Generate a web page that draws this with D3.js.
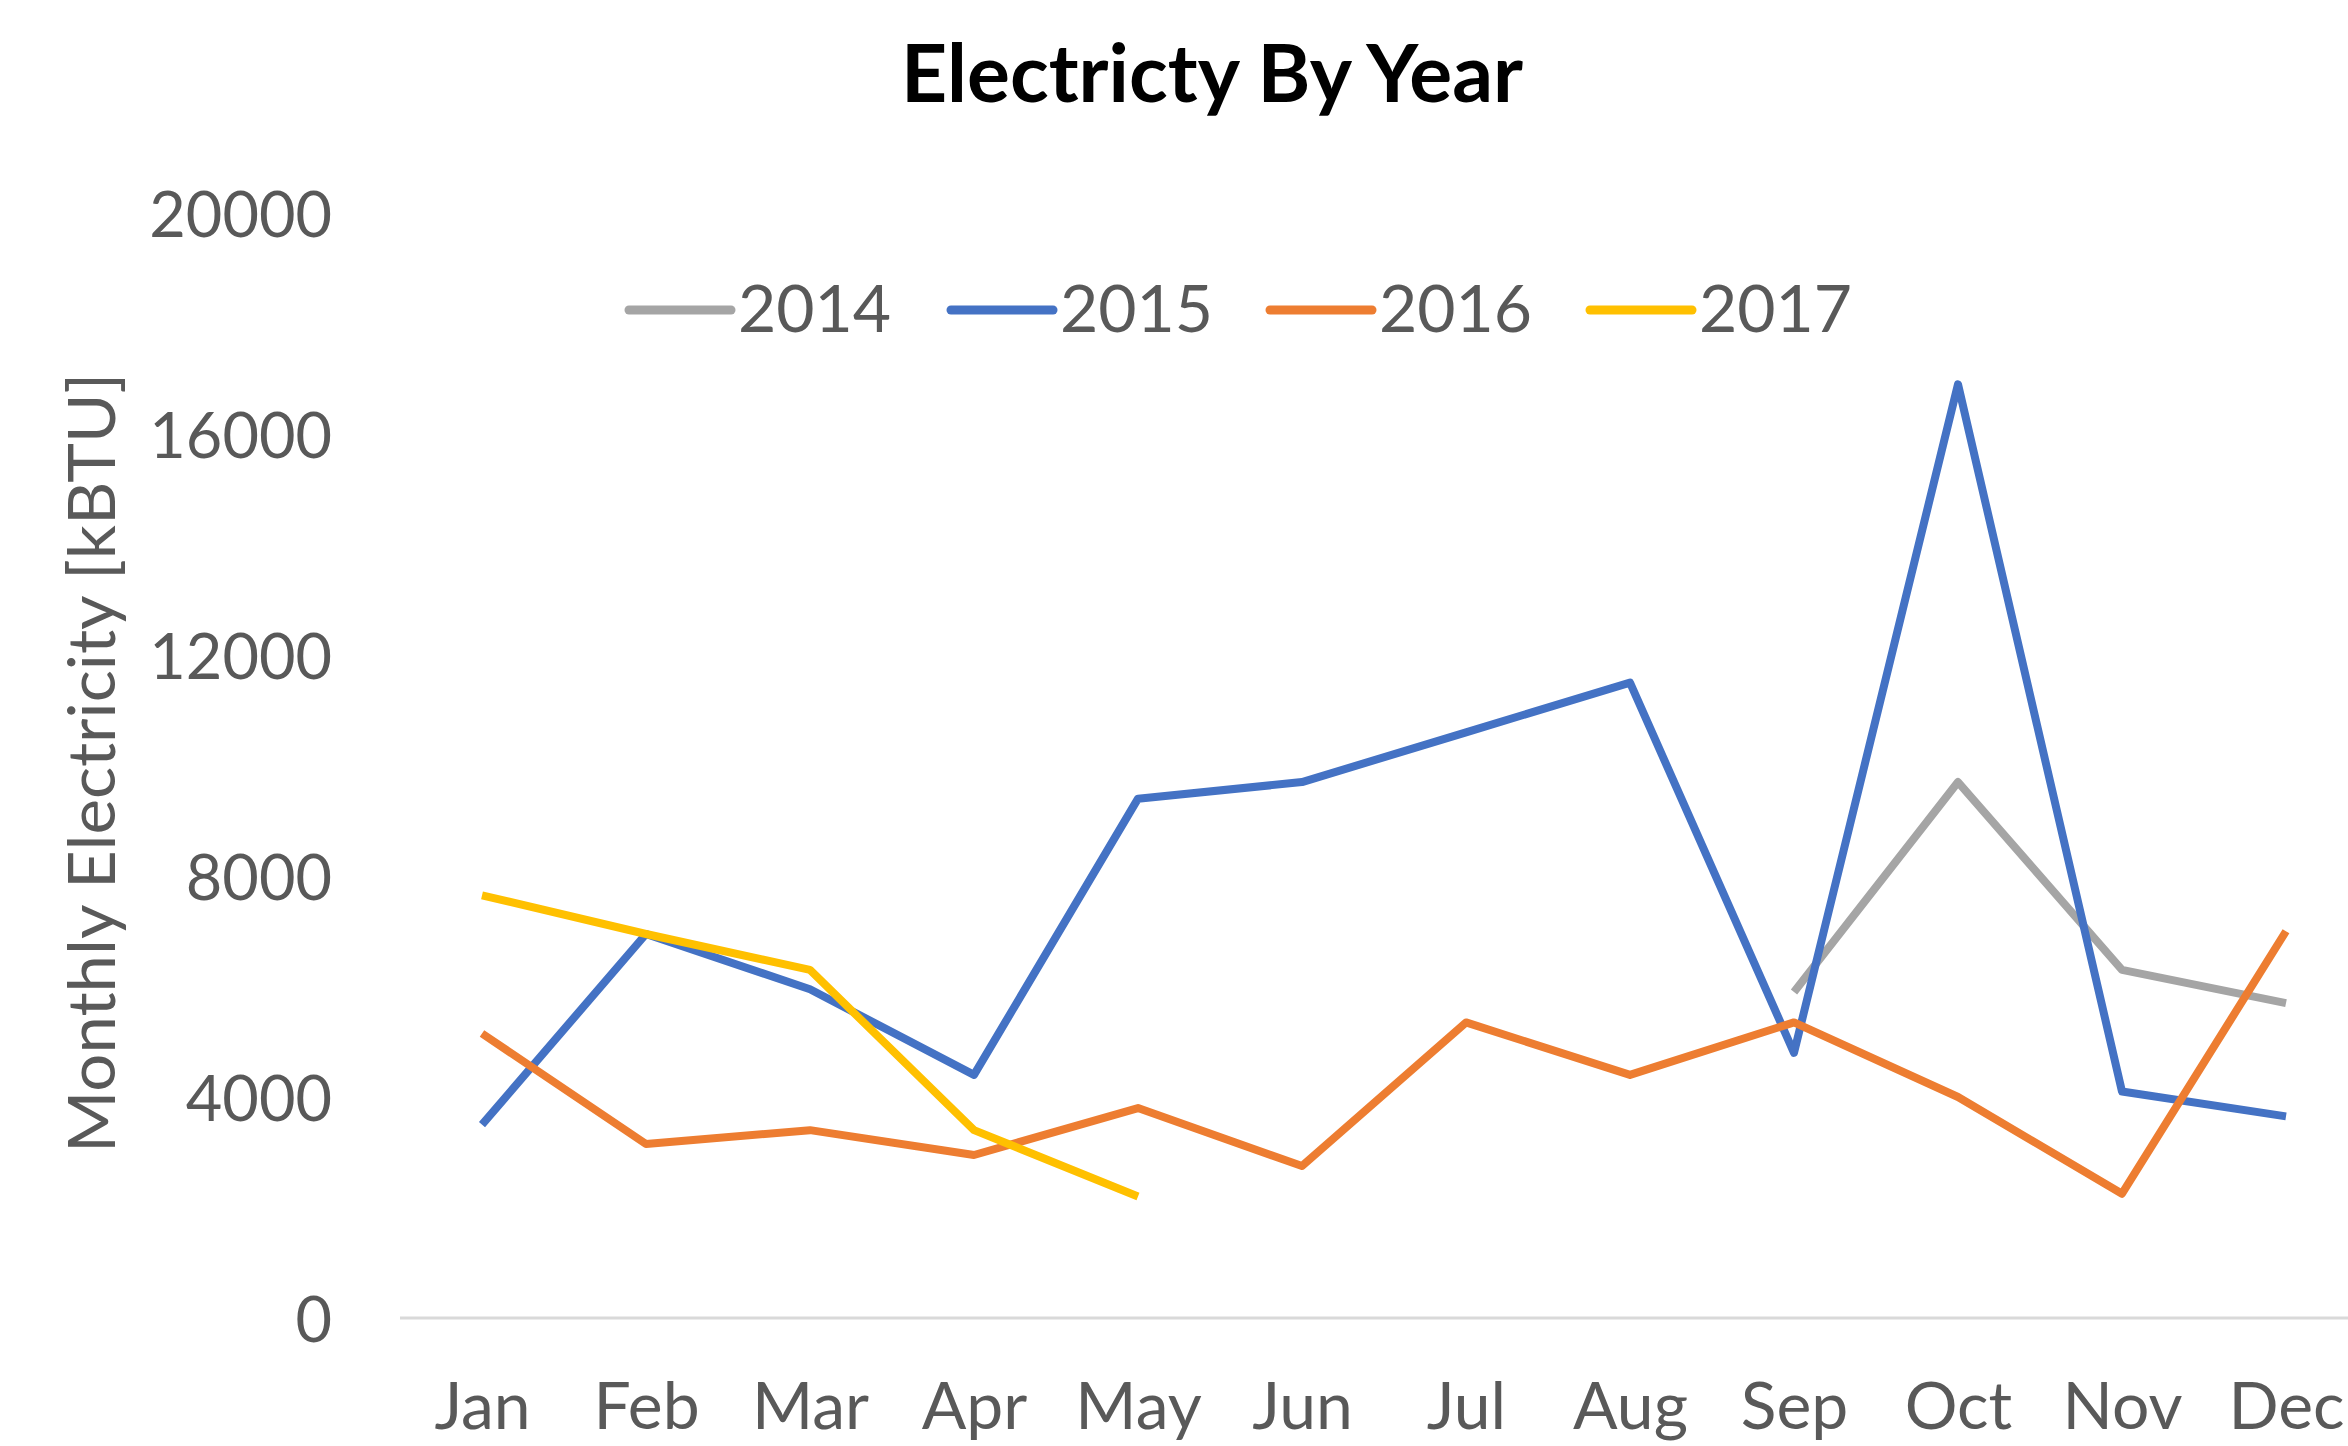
<!DOCTYPE html>
<html>
<head>
<meta charset="utf-8">
<script src="https://cdn.jsdelivr.net/npm/d3@7"></script>
<style>
  html, body { margin: 0; padding: 0; background: #fff; overflow: hidden; }
  svg { display: block; }
  text { font-family: Lato, "Open Sans", sans-serif; }
</style>
</head>
<body>
<svg id="chart" width="2348" height="1446"></svg>
<script>
const months = ["Jan","Feb","Mar","Apr","May","Jun","Jul","Aug","Sep","Oct","Nov","Dec"];
const years = ["2014","2015","2016","2017"];
const yTicks = [0, 4000, 8000, 12000, 16000, 20000];
const values2014 = [null, null, null, null, null, null, null, null, 5900, 9700, 6300, 5700];
const values2015 = [3500, 6950, 5950, 4400, 9400, 9700, 10600, 11500, 4800, 16900, 4100, 3650];
const values2016 = [5150, 3150, 3400, 2950, 3800, 2750, 5350, 4400, 5350, 4000, 2250, 7000];
const values2017 = [7650, 6950, 6300, 3400, 2200, null, null, null, null, null, null, null];
const colors = ["#A5A5A5", "#4472C4", "#ED7D31", "#FFC000"];
const titleText = "Electricty By Year";
const yTitleText = "Monthly Electricity [kBTU]";

const seriesValues = [values2014, values2015, values2016, values2017];

const svg = d3.select("#chart");

const x = d3.scalePoint().domain(months).range([400, 2368]).padding(0.5);
const y = d3.scaleLinear().domain([0, 20000]).range([1318, 213]);

// Title
svg.append("text")
  .attr("x", 1212).attr("y", 102)
  .attr("text-anchor", "middle")
  .attr("font-size", 80).attr("font-weight", "bold")
  .attr("fill", "#000")
  .attr("textLength", 622).attr("lengthAdjust", "spacingAndGlyphs")
  .text(titleText);

// Y axis ticks (labels only)
const yAxis = d3.axisLeft(y).tickValues(yTicks).tickSize(0).tickPadding(0).tickFormat(d3.format("d"));
const yg = svg.append("g").attr("transform", "translate(332,0)").call(yAxis);
yg.select(".domain").remove();
yg.selectAll("text")
  .attr("font-family", "Lato, 'Open Sans', sans-serif")
  .attr("font-size", 63).attr("fill", "#595959")
  .attr("dy", null).attr("y", 23).attr("x", 0)
  .attr("text-anchor", "end");

// X axis baseline
svg.append("line")
  .attr("x1", 400).attr("x2", 2368)
  .attr("y1", y(0)).attr("y2", y(0))
  .attr("stroke", "#D9D9D9").attr("stroke-width", 3);

// X axis labels
const xAxis = d3.axisBottom(x).tickSize(0).tickPadding(0);
const xg = svg.append("g").attr("transform", "translate(0,0)").call(xAxis);
xg.select(".domain").remove();
xg.selectAll("text")
  .attr("font-family", "Lato, 'Open Sans', sans-serif")
  .attr("font-size", 66).attr("fill", "#595959")
  .attr("dy", null).attr("y", 1429)
  .attr("text-anchor", "middle");

// Y axis title
svg.append("text")
  .attr("transform", "translate(115,763) rotate(-90)")
  .attr("text-anchor", "middle")
  .attr("font-size", 66).attr("fill", "#595959")
  .attr("textLength", 780).attr("lengthAdjust", "spacingAndGlyphs")
  .text(yTitleText);

// Lines
const line = d3.line()
  .defined(d => d.v !== null)
  .x(d => x(d.m))
  .y(d => y(d.v));

years.forEach((yr, i) => {
  const data = months.map((m, j) => ({ m: m, v: seriesValues[i][j] }));
  svg.append("path")
    .datum(data)
    .attr("fill", "none")
    .attr("stroke", colors[i])
    .attr("stroke-width", 8)
    .attr("stroke-linejoin", "round")
    .attr("d", line);
});

// Legend
const legendX = [629, 951, 1270, 1590];
years.forEach((yr, i) => {
  const g = svg.append("g").attr("transform", `translate(${legendX[i]},310)`);
  g.append("line").attr("x1", 0).attr("x2", 102).attr("y1", 0).attr("y2", 0)
    .attr("stroke", colors[i]).attr("stroke-width", 9).attr("stroke-linecap", "round");
  g.append("text").attr("x", 109).attr("y", 22)
    .attr("font-size", 66).attr("fill", "#595959")
    .text(yr);
});
</script>
</body>
</html>
